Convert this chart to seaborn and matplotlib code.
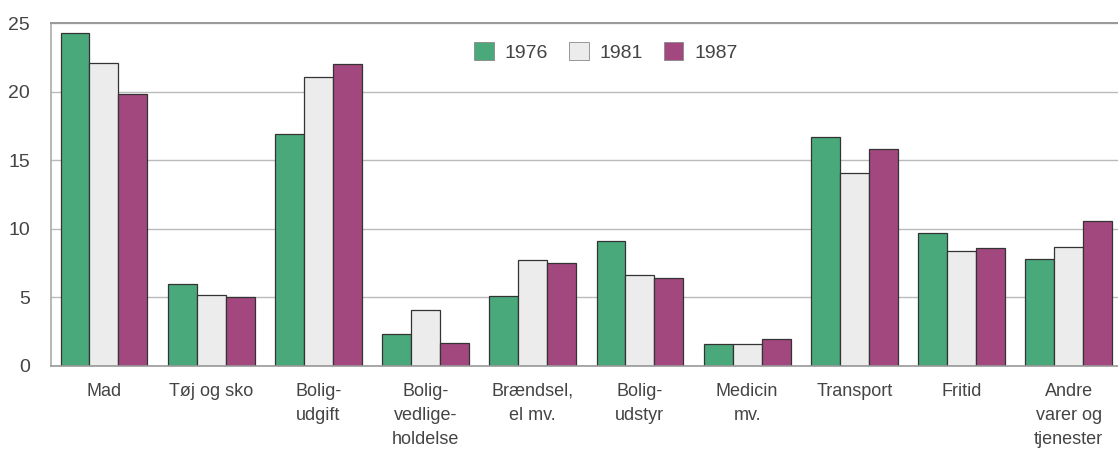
import matplotlib
matplotlib.use("Agg")
import matplotlib.pyplot as plt
import seaborn as sns
import pandas as pd

categories = ["Mad", "Tøj og sko", "Bolig-\nudgift", "Bolig-\nvedlige-\nholdelse",
              "Brændsel,\nel mv.", "Bolig-\nudstyr", "Medicin\nmv.", "Transport",
              "Fritid", "Andre\nvarer og\ntjenester"]
years = ["1976", "1981", "1987"]
v1976 = [24.3, 6.0, 16.9, 2.3, 5.1, 9.1, 1.6, 16.7, 9.7, 7.8]
v1981 = [22.1, 5.2, 21.1, 4.1, 7.7, 6.6, 1.6, 14.1, 8.4, 8.7]
v1987 = [19.8, 5.0, 22.0, 1.7, 7.5, 6.4, 2.0, 15.8, 8.6, 10.6]
yticks = [0, 5, 10, 15, 20, 25]

colors = ["#4aa97a", "#ececec", "#a3477f"]

df = pd.DataFrame({
    "kategori": categories * 3,
    "år": [y for y in years for _ in categories],
    "andel": v1976 + v1981 + v1987,
})

sns.set_theme(style="white")
plt.rcParams["font.family"] = ["Liberation Sans Narrow", "Liberation Sans", "DejaVu Sans"]

fig = plt.figure(figsize=(11.18, 4.55), dpi=100)
ax = fig.add_axes([51 / 1118, 1 - 366 / 455, (1118 - 51) / 1118, (366 - 23) / 455])

sns.barplot(data=df, x="kategori", y="andel", hue="år", hue_order=years,
            palette=colors, width=0.81, edgecolor="#333333", linewidth=0.9,
            saturation=1, ax=ax, legend=True)

ax.set_ylim(0, 25)
ax.set_xlim(-0.494, 9.46)
ax.set_yticks(yticks)
ax.set_yticklabels([str(t) for t in yticks], fontsize=14, color="#444444")
ax.tick_params(axis="y", length=0, pad=15)
ax.tick_params(axis="x", length=0, pad=12, labelsize=13, colors="#444444")
for lbl in ax.get_xticklabels():
    lbl.set_linespacing(1.55)
ax.set_xlabel("")
ax.set_ylabel("")

ax.yaxis.grid(True, color="#bbbbbb", linewidth=1)
ax.set_axisbelow(True)
ax.spines["right"].set_visible(False)
ax.spines["top"].set_color("#999999")
ax.spines["top"].set_linewidth(1.4)
ax.spines["left"].set_color("#aaaaaa")
ax.spines["left"].set_linewidth(1.2)
ax.spines["bottom"].set_color("#999999")
ax.spines["bottom"].set_linewidth(1.2)

leg = ax.legend(loc="center", bbox_to_anchor=(0.52, 0.915), ncol=3, frameon=False,
                fontsize=14, handlelength=1.0, handleheight=1.0, columnspacing=1.1,
                handletextpad=0.55)
for t in leg.get_texts():
    t.set_color("#444444")
for h in leg.legend_handles:
    h.set_edgecolor("#888888")
    h.set_linewidth(0.6)

fig.savefig("out.png", dpi=100)
